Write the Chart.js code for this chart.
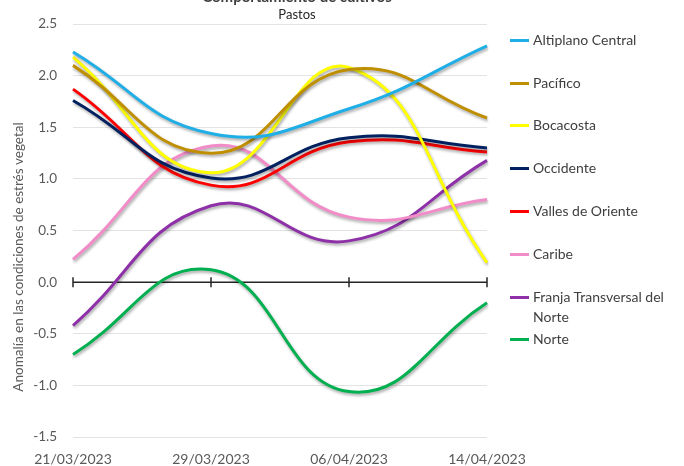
<!DOCTYPE html>
<html>
<head>
<meta charset="utf-8">
<script src="https://cdn.jsdelivr.net/npm/chart.js@4"></script>
<style>
  html, body { margin: 0; padding: 0; background: #fff; }
  #wrap { position: relative; width: 684px; height: 466px; overflow: hidden; }
  #c { position: absolute; left: 0; top: 0; }
  #legend { position: absolute; left: 0; top: 0; width: 684px; height: 466px; pointer-events: none; }
  .li { position: absolute; left: 510px; width: 174px; font-family: Lato, "Open Sans", sans-serif; font-size: 14px; line-height: 20px; color: #404040; }
  .li .sw { position: absolute; left: 0; top: 9px; width: 19px; height: 3px; }
  .li .tx { position: absolute; left: 23px; top: 0; width: 152px; white-space: normal; }
</style>
</head>
<body>
<div id="wrap">
  <canvas id="c" width="684" height="466"></canvas>
  <div id="legend"></div>
</div>
<script>
const categories = ["21/03/2023", "29/03/2023", "06/04/2023", "14/04/2023"];
const seriesNames = ["Altiplano Central", "Pacífico", "Bocacosta", "Occidente", "Valles de Oriente", "Caribe", "Franja Transversal del Norte", "Norte"];
const altiplano = [2.23, 1.44, 1.68, 2.29];
const pacifico  = [2.10, 1.25, 2.06, 1.59];
const bocacosta = [2.18, 1.06, 2.08, 0.19];
const occidente = [1.76, 1.01, 1.40, 1.30];
const valles    = [1.87, 0.94, 1.36, 1.26];
const caribe    = [0.22, 1.32, 0.63, 0.80];
const franja    = [-0.42, 0.74, 0.40, 1.18];
const norte     = [-0.70, 0.12, -1.06, -0.20];
const yTicks = [-1.5, -1.0, -0.5, 0.0, 0.5, 1.0, 1.5, 2.0, 2.5];

const seriesValues = [altiplano, pacifico, bocacosta, occidente, valles, caribe, franja, norte];
const colors = ["#1FAEE6", "#BF8F00", "#FFFF00", "#002060", "#FF0000", "#F28CC8", "#8E30A8", "#00B050"];

const datasets = seriesNames.map((n, i) => ({
  label: n,
  data: seriesValues[i],
  borderColor: colors[i],
  backgroundColor: colors[i],
  borderWidth: 3,
  pointRadius: 0,
  fill: false,
  tension: 0.45
}));

const txtColor = "#595959";
const fontFam = "Lato, 'Open Sans', sans-serif";

const zeroAxis = {
  id: 'zeroAxis',
  beforeDatasetsDraw(chart) {
    const { ctx, scales: { x, y }, chartArea } = chart;
    const y0 = y.getPixelForValue(0);
    ctx.save();
    ctx.strokeStyle = "#262626";
    ctx.lineWidth = 1.5;
    ctx.beginPath();
    ctx.moveTo(chartArea.left, y0);
    ctx.lineTo(chartArea.right, y0);
    categories.forEach((c, i) => {
      const px = x.getPixelForValue(i);
      ctx.moveTo(px, y0 - 5);
      ctx.lineTo(px, y0 + 5);
    });
    ctx.stroke();
    ctx.restore();
  }
};

const shadow = {
  id: 'shadow',
  beforeDatasetDraw(chart) {
    const ctx = chart.ctx;
    ctx.save();
    ctx.shadowColor = "rgba(0,0,0,0.35)";
    ctx.shadowBlur = 3;
    ctx.shadowOffsetX = 1;
    ctx.shadowOffsetY = 2;
  },
  afterDatasetDraw(chart) {
    chart.ctx.restore();
  }
};

const titles = {
  id: 'titles',
  afterDraw(chart) {
    const ctx = chart.ctx;
    ctx.save();
    ctx.fillStyle = "#404040";
    ctx.textAlign = "center";
    ctx.textBaseline = "middle";
    ctx.font = "bold 15px " + fontFam;
    ctx.fillText("Comportamiento de cultivos", 297, -3);
    ctx.font = "13px " + fontFam;
    ctx.fillStyle = "#262626";
    ctx.fillText("Pastos", 297, 15);
    ctx.translate(19, 257);
    ctx.rotate(-Math.PI / 2);
    ctx.fillStyle = txtColor;
    ctx.font = "13.5px " + fontFam;
    ctx.fillText("Anomalía en las condiciones de estrés vegetal", 0, 0);
    ctx.restore();
  }
};

new Chart(document.getElementById('c'), {
  type: 'line',
  data: { labels: categories, datasets },
  options: {
    responsive: false,
    animation: false,
    layout: { padding: { top: 22, right: 197, left: 0, bottom: 0 } },
    plugins: { legend: { display: false }, tooltip: { enabled: false }, title: { display: false } },
    scales: {
      x: {
        type: 'category',
        offset: false,
        grid: { display: false },
        border: { display: false },
        ticks: { color: txtColor, font: { family: fontFam, size: 14 }, padding: 6, maxRotation: 0, autoSkip: false },
        afterFit(s) { s.height = 29; }
      },
      y: {
        min: -1.5, max: 2.5,
        afterBuildTicks(s) { s.ticks = yTicks.map(v => ({ value: v })); },
        grid: {
          color: ctx => (ctx.tick && ctx.tick.value === 0) ? 'rgba(0,0,0,0)' : '#E3E3E3',
          lineWidth: 1,
          drawTicks: false
        },
        border: { display: false },
        ticks: { color: txtColor, font: { family: fontFam, size: 13.5 }, padding: 16, callback: v => Number(v).toFixed(1) },
        afterFit(s) { s.width = 73; }
      }
    }
  },
  plugins: [zeroAxis, shadow, titles]
});

const legendTops = [30, 73, 115, 158, 201, 244, 287, 329];
const lg = document.getElementById('legend');
seriesNames.forEach((n, i) => {
  const d = document.createElement('div');
  d.className = 'li';
  d.style.top = legendTops[i] + 'px';
  const sw = document.createElement('div');
  sw.className = 'sw';
  sw.style.background = colors[i];
  const tx = document.createElement('div');
  tx.className = 'tx';
  tx.textContent = n;
  d.appendChild(sw); d.appendChild(tx);
  lg.appendChild(d);
});
</script>
</body>
</html>
